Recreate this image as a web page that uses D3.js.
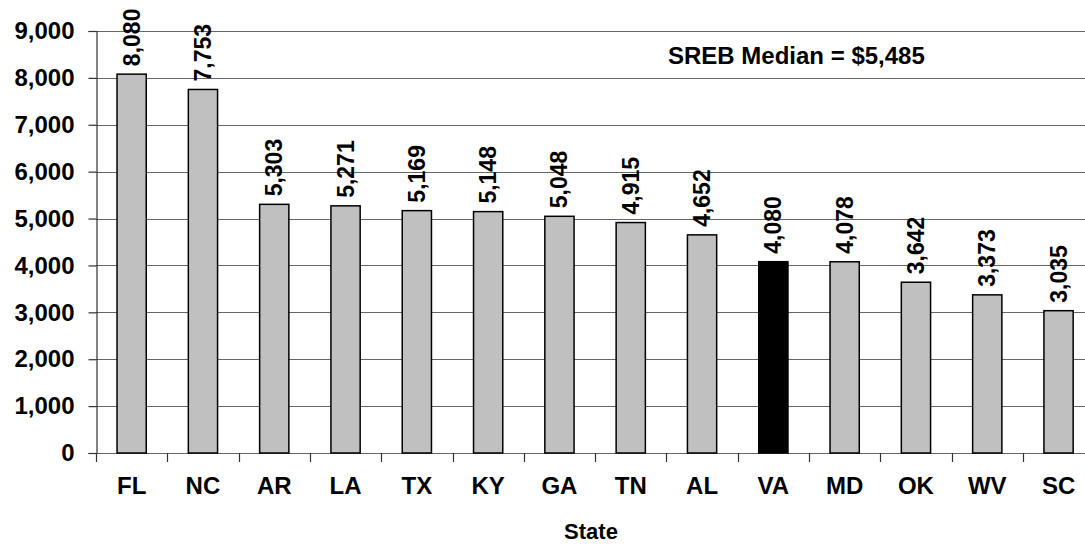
<!DOCTYPE html>
<html><head><meta charset="utf-8">
<script src="https://cdn.jsdelivr.net/npm/d3@7"></script>
<style>body{margin:0;background:#fff}svg{display:block}text{font-family:"Liberation Sans",Arial,sans-serif;font-weight:bold;fill:#000}</style>
</head><body>
<script>
const states = ["FL","NC","AR","LA","TX","KY","GA","TN","AL","VA","MD","OK","WV","SC"];
const values = [8080,7753,5303,5271,5169,5148,5048,4915,4652,4080,4078,3642,3373,3035];
const highlight = "VA";
const yTicks = [0,1000,2000,3000,4000,5000,6000,7000,8000,9000];
const medianLabel = "SREB Median = $5,485";
const xTitle = "State";

const W = 1085, H = 546;
const svg = d3.select("body").append("svg").attr("width", W).attr("height", H);
const left = 96, bandW = 71.3;
const x = d3.scaleBand().domain(states).range([left, left + bandW * states.length]).paddingInner(0.59).paddingOuter(0.295);
const y = d3.scaleLinear().domain([0, 9000]).range([453, 31]);

// gridlines
svg.append("g").selectAll("line").data(yTicks).join("line")
  .attr("x1", left).attr("x2", W).attr("y1", d => Math.round(y(d)) + 0.5).attr("y2", d => Math.round(y(d)) + 0.5)
  .attr("stroke", "#666").attr("stroke-width", 1.2);

// y axis
const yAxis = d3.axisLeft(y).tickValues(yTicks).tickFormat(d3.format(",")).tickSize(8).tickPadding(14);
const gy = svg.append("g").attr("transform", `translate(${left + 0.5},0)`).call(yAxis);
gy.select(".domain").attr("stroke", "#333").attr("stroke-width", 1.2);
gy.selectAll(".tick line").attr("stroke", "#333").attr("stroke-width", 1.2);
gy.selectAll("text").style("font-size", "24px").style("font-family", '"Liberation Sans",Arial,sans-serif').style("font-weight", "bold").attr("fill", "#000");

// x axis ticks between categories
const xt = d3.range(states.length + 1).map(i => left + i * bandW);
svg.append("g").selectAll("line").data(xt).join("line")
  .attr("x1", d => Math.round(d) + 0.5).attr("x2", d => Math.round(d) + 0.5)
  .attr("y1", 453).attr("y2", 462).attr("stroke", "#333").attr("stroke-width", 1.2);

// bars
svg.append("g").selectAll("rect").data(states).join("rect")
  .attr("x", d => x(d)).attr("width", x.bandwidth())
  .attr("y", (d, i) => y(values[i])).attr("height", (d, i) => y(0) - y(values[i]))
  .attr("fill", d => d === highlight ? "#000" : "#c0c0c0")
  .attr("stroke", "#000").attr("stroke-width", 1.5);

// value labels
const fmt = d3.format(",");
svg.append("g").selectAll("text").data(states).join("text")
  .attr("transform", (d, i) => `translate(${x(d) + x.bandwidth() / 2 + 8},${y(values[i]) - 8}) rotate(-90)`)
  .attr("text-anchor", "start").style("font-size", "23px")
  .text((d, i) => fmt(values[i]));

// category labels
svg.append("g").selectAll("text").data(states).join("text")
  .attr("x", d => x(d) + x.bandwidth() / 2).attr("y", 494)
  .attr("text-anchor", "middle").style("font-size", "24px").text(d => d);

svg.append("text").attr("x", 591).attr("y", 539).attr("text-anchor", "middle").style("font-size", "22px").text(xTitle);

svg.append("text").attr("x", 668).attr("y", 64).style("font-size", "24px").text(medianLabel);
</script>
</body></html>
